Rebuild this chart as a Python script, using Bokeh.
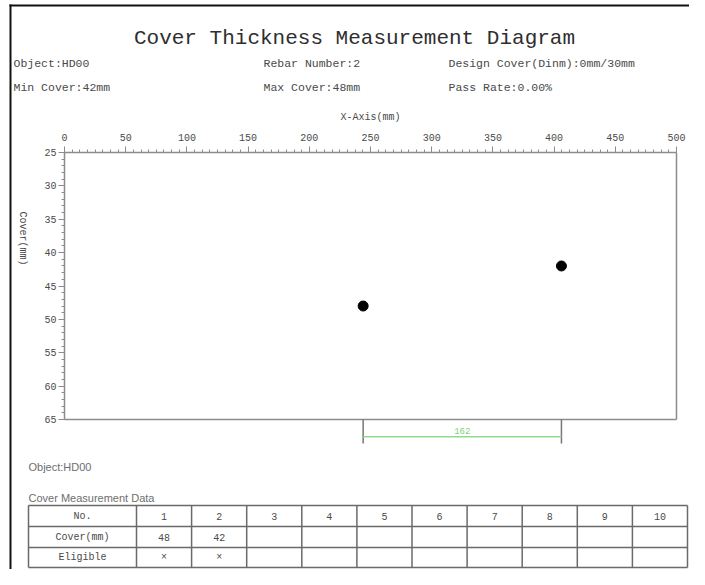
import math
from bokeh.plotting import figure
from bokeh.models import Range1d, FixedTicker, ColumnDataSource, LinearAxis
from bokeh.core.properties import value
from bokeh.embed import file_html
from bokeh.resources import INLINE

# ---------------- data ----------------
title_text = "Cover Thickness Measurement Diagram"
object_name = "HD00"
design_cover = "0mm/30mm"
pass_rate = "0.00%"
rebar_x = [244, 406]          # X position (mm)
cover = [48, 42]              # cover thickness (mm)
eligible = ["\u00d7", "\u00d7"]
col_numbers = [1, 2, 3, 4, 5, 6, 7, 8, 9, 10]
row_headers = ["No.", "Cover(mm)", "Eligible"]
x_ticks = [0, 50, 100, 150, 200, 250, 300, 350, 400, 450, 500]
y_ticks = [25, 30, 35, 40, 45, 50, 55, 60, 65]

MONO = "Liberation Mono"
SANS = "Liberation Sans"
TEXT = "#4a4a4a"
LIGHT = "#6e6e6e"
AXIS = "#8c8c8c"
GRIDC = "#6a6a6a"
GREEN = "#8fdc8f"

# ---------------- page geometry (pixels) ----------------
W, H = 689, 569
FL, FR, FT, FB = 64, 676, 152, 419       # chart frame edges on the page
xs = (FR - FL) / (x_ticks[-1] - x_ticks[0])
ys = (FB - FT) / (y_ticks[-1] - y_ticks[0])
x_start = x_ticks[0] - FL / xs
y_top = y_ticks[0] - FT / ys

p = figure(width=W, height=H,
           x_range=Range1d(x_start, x_start + W / xs),
           y_range=Range1d(y_top + H / ys, y_top),
           x_axis_location=None, y_axis_location=None, min_border=0,
           output_backend="svg", toolbar_location=None)
p.xgrid.grid_line_color = None
p.ygrid.grid_line_color = None
p.outline_line_color = None
p.background_fill_color = "white"
p.border_fill_color = "white"
p.extra_x_ranges = {"px": Range1d(0, W)}
p.extra_y_ranges = {"px": Range1d(H, 0)}
PX = dict(x_range_name="px", y_range_name="px")


def put_text(xs_, ys_, texts, font, size, color, align="left", angle=0.0, px=True):
    kw = PX if px else {}
    p.text(x=xs_, y=ys_, text=texts, text_font=value(font), text_font_size=size,
           text_color=color, text_align=align, text_baseline="middle", angle=angle, **kw)


# ---------------- page border ----------------
p.segment(x0=[9, 10], y0=[5, 4], x1=[W, 10], y1=[5, H], line_color="#111111", line_width=2, **PX)

# ---------------- header ----------------
put_text([354], [38], [title_text], MONO, "21px", "#2e2e2e", align="center")
info1 = ["Object:" + object_name, "Rebar Number:%d" % len(rebar_x), "Design Cover(Dinm):" + design_cover]
info2 = ["Min Cover:%dmm" % min(cover), "Max Cover:%dmm" % max(cover), "Pass Rate:" + pass_rate]
put_text([13, 263, 448], [63] * 3, info1, MONO, "11.5px", TEXT)
put_text([13, 263, 448], [87] * 3, info2, MONO, "11.5px", TEXT)
put_text([22], [238], ["Cover(mm)"], MONO, "10px", TEXT, align="center", angle=-math.pi / 2)

# ---------------- axes ----------------
xa = LinearAxis(fixed_location=y_ticks[0])
xa.ticker = FixedTicker(ticks=x_ticks, minor_ticks=[i * 6.25 for i in range(81)])
xa.bounds = (x_ticks[0], x_ticks[-1])
xa.axis_label = "X-Axis(mm)"
xa.axis_label_standoff = 8
xa.major_label_standoff = 6
p.add_layout(xa, "above")

ya = LinearAxis(fixed_location=x_ticks[0])
ya.ticker = FixedTicker(ticks=y_ticks, minor_ticks=list(range(25, 66)))
ya.bounds = (y_ticks[0], y_ticks[-1])
ya.major_label_standoff = 2
p.add_layout(ya, "left")

for ax in (xa, ya):
    ax.axis_label_text_font = MONO
    ax.axis_label_text_font_style = "normal"
    ax.axis_label_text_font_size = "10px"
    ax.axis_label_text_color = TEXT
    ax.major_label_text_font = MONO
    ax.major_label_text_font_size = "10px"
    ax.major_label_text_color = TEXT
    ax.axis_line_color = AXIS
    ax.axis_line_width = 1.5
    ax.major_tick_line_color = AXIS
    ax.minor_tick_line_color = AXIS
    ax.major_tick_out = 6
    ax.major_tick_in = 0
    ax.minor_tick_out = 3
    ax.minor_tick_in = 0

# right and bottom frame lines
p.segment(x0=[x_ticks[-1], x_ticks[0]], y0=[y_ticks[0], y_ticks[-1]],
          x1=[x_ticks[-1], x_ticks[-1]], y1=[y_ticks[-1], y_ticks[-1]],
          line_color=AXIS, line_width=1.5)

# rebar points
src = ColumnDataSource(dict(x=rebar_x, y=cover))
p.scatter("x", "y", source=src, size=10, color="black")

# spacing bracket below the chart
p.segment(x0=rebar_x, y0=[y_ticks[-1]] * len(rebar_x), x1=rebar_x, y1=[68.6] * len(rebar_x),
          line_color="#777777", line_width=1.5)
sx0 = rebar_x[:-1]
sx1 = rebar_x[1:]
p.segment(x0=sx0, y0=[67.6] * len(sx0), x1=sx1, y1=[67.6] * len(sx0),
          line_color=GREEN, line_width=1.5)
mids = [(a + b) / 2 for a, b in zip(sx0, sx1)]
spacing = [str(b - a) for a, b in zip(sx0, sx1)]
put_text(mids, [66.75] * len(mids), spacing, MONO, "9px", "#7fd07f", align="center", px=False)

# ---------------- footer / table ----------------
put_text([28], [466], ["Object:" + object_name], SANS, "11px", LIGHT)
put_text([28], [497], ["Cover Measurement Data"], SANS, "11px", LIGHT)

left, first_w, right = 28, 108, 687
cw = (right - left - first_w) / len(col_numbers)
col_edges = [left] + [left + first_w + i * cw for i in range(len(col_numbers) + 1)]
row_edges = [505, 526, 547, 567]
p.segment(x0=[left] * len(row_edges), y0=row_edges, x1=[right] * len(row_edges), y1=row_edges,
          line_color=GRIDC, line_width=1.5, **PX)
p.segment(x0=col_edges, y0=[row_edges[0]] * len(col_edges), x1=col_edges,
          y1=[row_edges[-1]] * len(col_edges), line_color=GRIDC, line_width=1.5, **PX)
row_mid = [(row_edges[i] + row_edges[i + 1]) / 2 for i in range(3)]
col_mid = [(col_edges[i] + col_edges[i + 1]) / 2 for i in range(len(col_edges) - 1)]
put_text([col_mid[0]] * 3, row_mid, row_headers, MONO, "10px", TEXT, align="center")
put_text(col_mid[1:], [row_mid[0]] * len(col_numbers), [str(n) for n in col_numbers],
         MONO, "10px", TEXT, align="center")
put_text(col_mid[1:1 + len(cover)], [row_mid[1]] * len(cover), [str(c) for c in cover],
         MONO, "10px", TEXT, align="center")
put_text(col_mid[1:1 + len(eligible)], [row_mid[2]] * len(eligible), eligible,
         MONO, "10px", TEXT, align="center")

open("out.html", "w").write(file_html(p, INLINE))
